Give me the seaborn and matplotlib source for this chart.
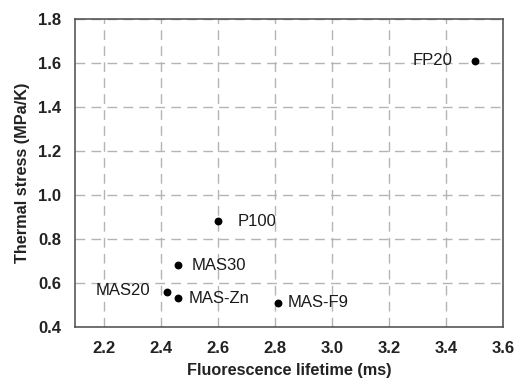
import matplotlib
matplotlib.use("Agg")
import matplotlib.pyplot as plt
import seaborn as sns
import pandas as pd

# Sample data: fluorescence lifetime vs. thermal stress
samples = ["FP20", "P100", "MAS30", "MAS20", "MAS-Zn", "MAS-F9"]
lifetime_ms = [3.50, 2.60, 2.46, 2.42, 2.46, 2.81]
stress_mpa_k = [1.61, 0.88, 0.68, 0.56, 0.53, 0.51]

x_ticks = [2.2, 2.4, 2.6, 2.8, 3.0, 3.2, 3.4, 3.6]
y_ticks = [0.4, 0.6, 0.8, 1.0, 1.2, 1.4, 1.6, 1.8]

df = pd.DataFrame({"sample": samples, "lifetime": lifetime_ms, "stress": stress_mpa_k})

sns.set_style("white")
plt.rcParams["font.family"] = ["Liberation Sans", "DejaVu Sans"]

fig = plt.figure(figsize=(5.16, 3.85), dpi=100)
ax = fig.add_axes([0.146, 0.151, 0.829, 0.800])

sns.scatterplot(data=df, x="lifetime", y="stress", ax=ax, color="black",
                s=32, edgecolor="black", linewidth=0, zorder=3)

# label placement per sample: (dx, dy) in points, horizontal alignment
offsets = {
    "FP20": (-16, 0, "right"),
    "P100": (14, 0, "left"),
    "MAS30": (10, 0, "left"),
    "MAS20": (-12, 1, "right"),
    "MAS-Zn": (8, 0, "left"),
    "MAS-F9": (7, 0, "left"),
}
for name, xv, yv in zip(samples, lifetime_ms, stress_mpa_k):
    dx, dy, ha = offsets[name]
    ax.annotate(name, (xv, yv), xytext=(dx, dy), textcoords="offset points",
                ha=ha, va="center", fontsize=12, color="#1a1a1a")

ax.set_xlim(2.1, 3.6)
ax.set_ylim(0.4, 1.8)
ax.set_xticks(x_ticks)
ax.set_yticks(y_ticks)
ax.set_xticklabels([f"{t:.1f}" for t in x_ticks])
ax.set_yticklabels([f"{t:.1f}" for t in y_ticks])

ax.grid(True, color="#b4b4b4", linestyle=(0, (7, 4.5)), linewidth=1.0)
ax.set_axisbelow(True)

for side in ["left", "bottom", "top", "right"]:
    ax.spines[side].set_visible(True)
    ax.spines[side].set_color("#4a4a4a")
    ax.spines[side].set_linewidth(1.1)

ax.tick_params(axis="both", direction="out", length=4, width=1.0, color="#4a4a4a",
               labelsize=12, pad=6)
for lbl in ax.get_xticklabels() + ax.get_yticklabels():
    lbl.set_fontweight("bold")
    lbl.set_color("#222222")

ax.set_xlabel("Fluorescence lifetime (ms)", fontsize=11.7, fontweight="bold",
              color="#222222", labelpad=5)
ax.set_ylabel("Thermal stress (MPa/K)", fontsize=11.7, fontweight="bold",
              color="#222222", labelpad=6)

fig.savefig("out.png", dpi=100)
